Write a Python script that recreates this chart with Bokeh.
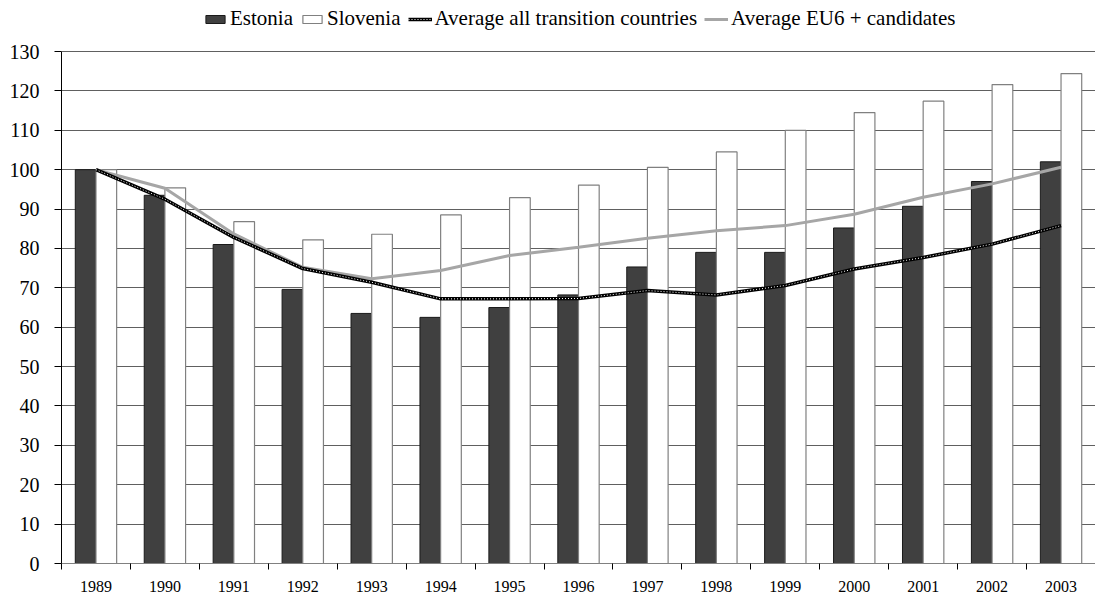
from bokeh.plotting import figure
from bokeh.models import (ColumnDataSource, FixedTicker, Legend, LegendItem, Range1d)
from bokeh.transform import dodge
from bokeh.embed import file_html
from bokeh.resources import INLINE

years = [1989, 1990, 1991, 1992, 1993, 1994, 1995, 1996, 1997, 1998, 1999, 2000, 2001, 2002, 2003]
estonia = [100, 93.5, 81, 69.6, 63.5, 62.5, 65, 68.2, 75.3, 79, 79, 85.2, 90.7, 97, 102]
slovenia = [100, 95.4, 86.8, 82.2, 83.6, 88.5, 92.9, 96.1, 100.6, 104.5, 110, 114.5, 117.4, 121.6, 124.4]
avg_transition = [100, 92.5, 82.8, 74.9, 71.4, 67.2, 67.2, 67.3, 69.3, 68.2, 70.6, 74.8, 77.7, 81.1, 85.8]
avg_eu6 = [100, 95.3, 83.7, 75.2, 72.3, 74.4, 78.2, 80.3, 82.6, 84.5, 85.8, 88.7, 93.0, 96.4, 100.6]
y_ticks = list(range(0, 131, 10))

src = ColumnDataSource(dict(year=years, estonia=estonia, slovenia=slovenia,
                            avg_t=avg_transition, avg_e=avg_eu6))

FONT = "Liberation Serif"

# y range extends above 130 to leave room for the legend inside the frame;
# the axis itself is bounded to 0..130
p = figure(width=1095, height=600, output_backend="svg", toolbar_location=None,
           x_range=Range1d(years[0] - 0.5, years[-1] + 0.5), y_range=Range1d(0, 142.96),
           min_border_left=61, min_border_right=0, min_border_top=0, min_border_bottom=37)
p.outline_line_color = None
p.background_fill_color = "white"

# grid
p.xgrid.grid_line_color = None
p.ygrid.grid_line_color = "#606060"
p.ygrid.grid_line_width = 1

bw = 0.3
r_est = p.vbar(x=dodge("year", -bw / 2, range=p.x_range), top="estonia", width=bw, source=src,
               fill_color="#404040", line_color="#1a1a1a", line_width=1)
r_slo = p.vbar(x=dodge("year", bw / 2, range=p.x_range), top="slovenia", width=bw, source=src,
               fill_color="white", line_color="#808080", line_width=1.2)

r_eu = p.line("year", "avg_e", source=src, line_color="#a6a6a6", line_width=3)
r_t1 = p.line("year", "avg_t", source=src, line_color="black", line_width=3.5)
r_t2 = p.line("year", "avg_t", source=src, line_color="white", line_width=1, line_dash="1 2")

# axes
p.yaxis.ticker = FixedTicker(ticks=y_ticks)
p.yaxis.bounds = (0, 130)
p.yaxis.axis_line_color = "black"
p.yaxis.major_tick_out = 7
p.yaxis.major_tick_in = 0
p.yaxis.minor_tick_line_color = None
p.yaxis.major_label_standoff = 15
p.yaxis.major_label_text_font = FONT
p.yaxis.major_label_text_font_size = "20px"
p.yaxis.major_label_text_color = "black"

p.xaxis.ticker = FixedTicker(ticks=years, minor_ticks=[y - 0.5 for y in years] + [years[-1] + 0.5])
p.xaxis.axis_line_color = "#808080"
p.xaxis.major_tick_out = 0
p.xaxis.major_tick_in = 0
p.xaxis.minor_tick_out = 6
p.xaxis.minor_tick_in = 0
p.xaxis.minor_tick_line_color = "black"
p.xaxis.major_label_standoff = 11
p.xaxis.major_label_text_font = FONT
p.xaxis.major_label_text_font_size = "16px"
p.xaxis.major_label_text_color = "black"

legend = Legend(items=[
    LegendItem(label="Estonia", renderers=[r_est]),
    LegendItem(label="Slovenia", renderers=[r_slo]),
    LegendItem(label="Average all transition countries", renderers=[r_t1, r_t2]),
    LegendItem(label="Average EU6 + candidates", renderers=[r_eu]),
], orientation="horizontal", location=(142, 532),
   label_text_font="Times New Roman", label_text_font_size="21px",
   label_text_color="black")
legend.border_line_color = None
legend.background_fill_alpha = 0
legend.glyph_width = 24
legend.glyph_height = 10
legend.label_standoff = 3
legend.spacing = 7
legend.padding = 0
legend.margin = 0
p.add_layout(legend, "center")

open("out.html", "w").write(file_html(p, INLINE))
